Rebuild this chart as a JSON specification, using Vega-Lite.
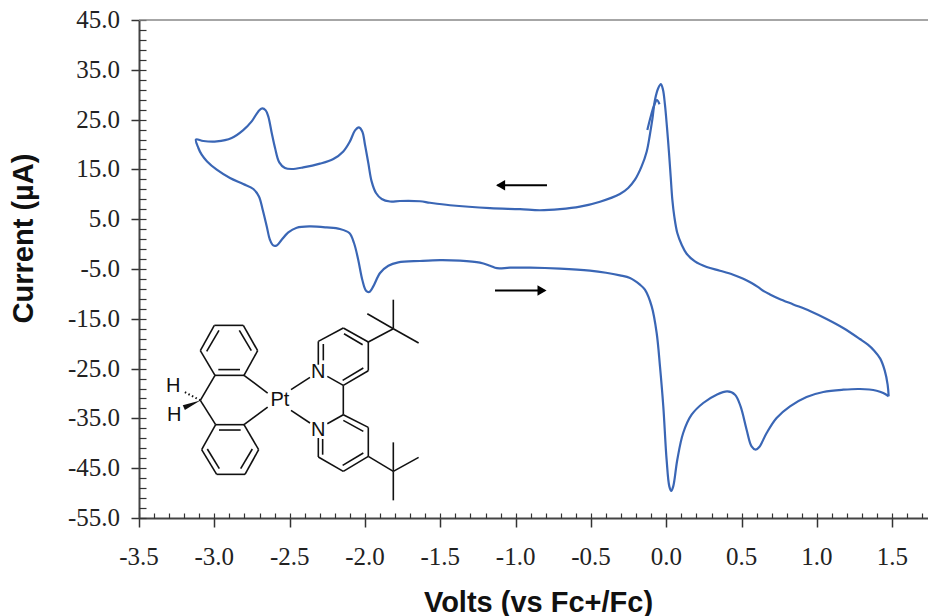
{"$schema":"https://vega.github.io/schema/vega-lite/v6.json","width":789,"height":498,"autosize":{"type":"none"},"padding":{"left":139,"top":20,"right":0,"bottom":98},"background":"white","config":{"view":{"stroke":null}},
"datasets":{
"curve":[
{"s":"h","i":0,"v":-0.045,"c":28.09},{"s":"h","i":1,"v":-0.062,"c":28.9},{"s":"h","i":2,"v":-0.082,"c":27.79},{"s":"h","i":3,"v":-0.102,"c":25.78},{"s":"h","i":4,"v":-0.126,"c":22.91},
{"s":"m","i":0,"v":1.476,"c":-30.58},{"s":"m","i":1,"v":1.469,"c":-28.2},{"s":"m","i":2,"v":1.45,"c":-25.4},{"s":"m","i":2.5,"v":1.42,"c":-23},{"s":"m","i":2.7,"v":1.38,"c":-21.4},{"s":"m","i":3,"v":1.338,"c":-20.2},{"s":"m","i":4,"v":1.285,"c":-19.06},{"s":"m","i":5,"v":1.174,"c":-16.85},{"s":"m","i":6,"v":1.064,"c":-15.04},{"s":"m","i":7,"v":0.953,"c":-13.43},{"s":"m","i":8,"v":0.843,"c":-12.11},{"s":"m","i":9,"v":0.748,"c":-10.96},{"s":"m","i":10,"v":0.688,"c":-10.1},{"s":"m","i":10.5,"v":0.65,"c":-9.5},{"s":"m","i":11,"v":0.61,"c":-8.65},{"s":"m","i":12,"v":0.566,"c":-7.81},{"s":"m","i":13,"v":0.511,"c":-6.95},{"s":"m","i":14,"v":0.444,"c":-6.14},{"s":"m","i":15,"v":0.356,"c":-5.34},{"s":"m","i":16,"v":0.268,"c":-4.6},{"s":"m","i":17,"v":0.19,"c":-3.47},{"s":"m","i":18,"v":0.135,"c":-1.93},{"s":"m","i":19,"v":0.102,"c":-0.12},{"s":"m","i":20,"v":0.073,"c":2.23},{"s":"m","i":21,"v":0.053,"c":5.56},{"s":"m","i":22,"v":0.04,"c":8.92},{"s":"m","i":23,"v":0.029,"c":13.59},{"s":"m","i":24,"v":0.018,"c":18.29},{"s":"m","i":25,"v":0.004,"c":23.63},{"s":"m","i":26,"v":-0.009,"c":27.99},{"s":"m","i":27,"v":-0.022,"c":31},{"s":"m","i":28,"v":-0.036,"c":32.15},{"s":"m","i":29,"v":-0.053,"c":31.35},{"s":"m","i":30,"v":-0.075,"c":29},{"s":"m","i":31,"v":-0.093,"c":24.98},{"s":"m","i":32,"v":-0.109,"c":21.97},{"s":"m","i":33,"v":-0.13,"c":18.61},{"s":"m","i":34,"v":-0.164,"c":15.6},{"s":"m","i":35,"v":-0.208,"c":12.93},{"s":"m","i":36,"v":-0.253,"c":11.27},{"s":"m","i":37,"v":-0.308,"c":10.06},{"s":"m","i":38,"v":-0.44,"c":8.51},{"s":"m","i":39,"v":-0.573,"c":7.51},{"s":"m","i":40,"v":-0.706,"c":7.01},{"s":"m","i":41,"v":-0.839,"c":6.8},{"s":"m","i":42,"v":-0.971,"c":7.01},{"s":"m","i":43,"v":-1.17,"c":7.21},{"s":"m","i":44,"v":-1.436,"c":7.8},{"s":"m","i":45,"v":-1.569,"c":8.3},{"s":"m","i":46,"v":-1.635,"c":8.6},{"s":"m","i":47,"v":-1.768,"c":8.65},{"s":"m","i":48,"v":-1.834,"c":8.55},{"s":"m","i":49,"v":-1.889,"c":9.06},{"s":"m","i":50,"v":-1.927,"c":10.26},{"s":"m","i":51,"v":-1.956,"c":12.59},{"s":"m","i":52,"v":-1.978,"c":16.29},{"s":"m","i":53,"v":-2.0,"c":19.96},{"s":"m","i":54,"v":-2.018,"c":22.63},{"s":"m","i":55,"v":-2.04,"c":23.43},{"s":"m","i":56,"v":-2.066,"c":22.83},{"s":"m","i":57,"v":-2.1,"c":20.62},{"s":"m","i":58,"v":-2.144,"c":18.61},{"s":"m","i":59,"v":-2.21,"c":17.09},{"s":"m","i":60,"v":-2.299,"c":16.15},{"s":"m","i":61,"v":-2.41,"c":15.4},{"s":"m","i":62,"v":-2.487,"c":15.08},{"s":"m","i":63,"v":-2.531,"c":15.28},{"s":"m","i":64,"v":-2.569,"c":16.41},{"s":"m","i":65,"v":-2.597,"c":19.3},{"s":"m","i":66,"v":-2.619,"c":22.31},{"s":"m","i":67,"v":-2.642,"c":25.64},{"s":"m","i":68,"v":-2.659,"c":26.85},{"s":"m","i":69,"v":-2.682,"c":27.25},{"s":"m","i":70,"v":-2.708,"c":26.65},{"s":"m","i":71,"v":-2.752,"c":24.64},{"s":"m","i":72,"v":-2.808,"c":22.9},{"s":"m","i":73,"v":-2.885,"c":21.31},{"s":"m","i":74,"v":-2.984,"c":20.62},{"s":"m","i":75,"v":-3.073,"c":20.7},{"s":"m","i":76,"v":-3.122,"c":21.02},{"s":"m","i":77,"v":-3.106,"c":19.3},{"s":"m","i":77.5,"v":-3.084,"c":17.95},{"s":"m","i":78,"v":-3.048,"c":16.6},{"s":"m","i":79,"v":-2.984,"c":14.94},{"s":"m","i":80,"v":-2.896,"c":13.27},{"s":"m","i":81,"v":-2.808,"c":12.07},{"s":"m","i":82,"v":-2.741,"c":11.06},{"s":"m","i":83,"v":-2.704,"c":9.58},{"s":"m","i":84,"v":-2.679,"c":6.91},{"s":"m","i":85,"v":-2.652,"c":3.55},{"s":"m","i":86,"v":-2.631,"c":0.88},{"s":"m","i":87,"v":-2.609,"c":-0.26},{"s":"m","i":88,"v":-2.586,"c":-0.26},{"s":"m","i":89,"v":-2.553,"c":0.88},{"s":"m","i":90,"v":-2.509,"c":2.35},{"s":"m","i":91,"v":-2.453,"c":3.29},{"s":"m","i":92,"v":-2.365,"c":3.55},{"s":"m","i":93,"v":-2.254,"c":3.35},{"s":"m","i":94,"v":-2.166,"c":3.03},{"s":"m","i":95,"v":-2.104,"c":2.23},{"s":"m","i":96,"v":-2.073,"c":0.22},{"s":"m","i":97,"v":-2.045,"c":-3.13},{"s":"m","i":98,"v":-2.018,"c":-7.15},{"s":"m","i":99,"v":-1.993,"c":-9.36},{"s":"m","i":100,"v":-1.972,"c":-9.62},{"s":"m","i":101,"v":-1.945,"c":-8.49},{"s":"m","i":102,"v":-1.9,"c":-5.8},{"s":"m","i":103,"v":-1.845,"c":-4.34},{"s":"m","i":104,"v":-1.779,"c":-3.67},{"s":"m","i":105,"v":-1.635,"c":-3.39},{"s":"m","i":106,"v":-1.502,"c":-3.23},{"s":"m","i":107,"v":-1.37,"c":-3.33},{"s":"m","i":108,"v":-1.237,"c":-3.73},{"s":"m","i":109,"v":-1.17,"c":-4.34},{"s":"m","i":110,"v":-1.124,"c":-4.84},{"s":"m","i":111,"v":-1.038,"c":-4.74},{"s":"m","i":112,"v":-0.905,"c":-4.74},{"s":"m","i":113,"v":-0.706,"c":-4.94},{"s":"m","i":113.5,"v":-0.507,"c":-5.34},{"s":"m","i":114,"v":-0.4,"c":-5.75},{"s":"m","i":115,"v":-0.308,"c":-6.28},{"s":"m","i":116,"v":-0.241,"c":-6.81},{"s":"m","i":117,"v":-0.175,"c":-8.15},{"s":"m","i":118,"v":-0.142,"c":-9.16},{"s":"m","i":119,"v":-0.097,"c":-12.51},{"s":"m","i":120,"v":-0.064,"c":-17.85},{"s":"m","i":121,"v":-0.042,"c":-24.56},{"s":"m","i":122,"v":-0.02,"c":-32.59},{"s":"m","i":123,"v":0.002,"c":-43.29},{"s":"m","i":124,"v":0.02,"c":-48.65},{"s":"m","i":125,"v":0.033,"c":-49.58},{"s":"m","i":126,"v":0.046,"c":-48.65},{"s":"m","i":127,"v":0.073,"c":-43.29},{"s":"m","i":128,"v":0.112,"c":-37.93},{"s":"m","i":129,"v":0.168,"c":-34.26},{"s":"m","i":130,"v":0.245,"c":-31.91},{"s":"m","i":131,"v":0.334,"c":-30.24},{"s":"m","i":132,"v":0.405,"c":-29.58},{"s":"m","i":133,"v":0.456,"c":-30.24},{"s":"m","i":134,"v":0.493,"c":-32.59},{"s":"m","i":135,"v":0.533,"c":-37.27},{"s":"m","i":136,"v":0.566,"c":-40.62},{"s":"m","i":137,"v":0.593,"c":-41.28},{"s":"m","i":138,"v":0.617,"c":-40.74},{"s":"m","i":139,"v":0.666,"c":-37.93},{"s":"m","i":140,"v":0.732,"c":-34.92},{"s":"m","i":141,"v":0.821,"c":-32.59},{"s":"m","i":142,"v":0.931,"c":-30.7},{"s":"m","i":143,"v":1.042,"c":-29.7},{"s":"m","i":144,"v":1.174,"c":-29.24},{"s":"m","i":145,"v":1.285,"c":-29.1},{"s":"m","i":146,"v":1.396,"c":-29.44},{"s":"m","i":146.5,"v":1.44,"c":-29.9},{"s":"m","i":147,"v":1.476,"c":-30.58}
],
"bonds":[
{"a":-3.0,"b":-16.318,"a2":-2.8075,"b2":-16.318},{"a":-2.8075,"b":-16.318,"a2":-2.7124,"b2":-21.404},{"a":-2.7124,"b":-21.404,"a2":-2.8031,"b2":-26.357},{"a":-2.8031,"b":-26.357,"a2":-2.9956,"b2":-26.357},{"a":-2.9956,"b":-26.357,"a2":-3.0929,"b2":-21.404},{"a":-3.0929,"b":-21.404,"a2":-3.0,"b2":-16.318},
{"a":-3.0509,"b":-21.538,"a2":-2.9691,"b2":-17.321},{"a":-2.8341,"b":-17.321,"a2":-2.7544,"b2":-21.404},{"a":-2.9735,"b":-25.2,"a2":-2.8297,"b2":-25.2},
{"a":-2.9956,"b":-26.357,"a2":-3.0929,"b2":-31.376},{"a":-2.8031,"b":-26.357,"a2":-2.6461,"b2":-29.904},
{"a":-2.9912,"b":-36.262,"a2":-2.8031,"b2":-36.262},{"a":-2.8031,"b":-36.262,"a2":-2.7058,"b2":-41.283},{"a":-2.7058,"b":-41.283,"a2":-2.7965,"b2":-46.235},{"a":-2.7965,"b":-46.235,"a2":-2.9845,"b2":-46.235},{"a":-2.9845,"b":-46.235,"a2":-3.0841,"b2":-41.283},{"a":-3.0841,"b":-41.283,"a2":-2.9912,"b2":-36.262},
{"a":-2.9691,"b":-37.334,"a2":-2.8252,"b2":-37.334},{"a":-2.7478,"b":-41.149,"a2":-2.8252,"b2":-45.098},{"a":-3.0465,"b":-41.149,"a2":-2.9668,"b2":-45.098},
{"a":-3.0929,"b":-31.376,"a2":-2.9912,"b2":-36.262},{"a":-2.8031,"b":-36.262,"a2":-2.6461,"b2":-32.715},
{"a":-2.4912,"b":-29.235,"a2":-2.3651,"b2":-26.758},{"a":-2.4912,"b":-33.385,"a2":-2.3651,"b2":-35.928},
{"a":-2.3098,"b":-24.215,"a2":-2.3098,"b2":-19.53},{"a":-2.3098,"b":-19.53,"a2":-2.1439,"b2":-16.853},{"a":-2.1439,"b":-16.853,"a2":-1.978,"b2":-19.664},{"a":-1.978,"b":-19.664,"a2":-1.978,"b2":-25.42},{"a":-1.978,"b":-25.42,"a2":-2.1439,"b2":-28.365},{"a":-2.1439,"b":-28.365,"a2":-2.2501,"b2":-26.558},
{"a":-2.2766,"b":-20.065,"a2":-2.2766,"b2":-23.345},{"a":-2.1394,"b":-17.991,"a2":-2.0155,"b2":-20.199},{"a":-2.0111,"b":-24.884,"a2":-2.1483,"b2":-27.361},
{"a":-2.1439,"b":-28.365,"a2":-2.1439,"b2":-34.255},
{"a":-2.1439,"b":-34.255,"a2":-2.2501,"b2":-36.061},{"a":-2.1439,"b":-34.255,"a2":-1.978,"b2":-36.798},{"a":-1.978,"b":-36.798,"a2":-1.978,"b2":-42.621},{"a":-1.978,"b":-42.621,"a2":-2.1439,"b2":-45.632},{"a":-2.1439,"b":-45.632,"a2":-2.3098,"b2":-42.754},{"a":-2.3098,"b":-42.754,"a2":-2.3098,"b2":-38.94},
{"a":-2.281,"b":-39.14,"a2":-2.281,"b2":-42.286},{"a":-2.1439,"b":-35.393,"a2":-2.0111,"b2":-37.601},{"a":-2.0111,"b":-41.952,"a2":-2.1483,"b2":-44.429},
{"a":-1.978,"b":-19.664,"a2":-1.812,"b2":-16.987},{"a":-1.812,"b":-16.987,"a2":-1.812,"b2":-11.164},{"a":-1.812,"b":-16.987,"a2":-1.9846,"b2":-13.975},{"a":-1.812,"b":-16.987,"a2":-1.6439,"b2":-19.865},
{"a":-1.978,"b":-42.621,"a2":-1.812,"b2":-45.632},{"a":-1.812,"b":-45.632,"a2":-1.812,"b2":-39.81},{"a":-1.812,"b":-45.632,"a2":-1.812,"b2":-51.456},{"a":-1.812,"b":-45.632,"a2":-1.6439,"b2":-42.822}
],
"atoms":[{"t":"H","a":-3.2721,"b":-28.566},{"t":"H","a":-3.2655,"b":-34.255},{"t":"Pt","a":-2.5642,"b":-31.376},{"t":"N","a":-2.3098,"b":-25.69},{"t":"N","a":-2.3098,"b":-37.27}],
"hash":[{"a":-3.0929,"b":-31.376,"a2":-3.2058,"b2":-29.57}],
"wedge":[{"a":-3.166,"b":-32.37}],
"arrowLines":[{"a":-0.792,"b":11.83,"a2":-1.12,"b2":11.83},{"a":-1.137,"b":-9.3,"a2":-0.81,"b2":-9.3}],
"headL":[{"a":-1.1,"b":11.83}],
"headR":[{"a":-0.825,"b":-9.3}],
"top":[{"b":45}],
"xlabels":[{"t":"-3.5","a":-3.5,"b":-62.8},{"t":"-3.0","a":-3,"b":-62.8},{"t":"-2.5","a":-2.5,"b":-62.8},{"t":"-2.0","a":-2,"b":-62.8},{"t":"-1.5","a":-1.5,"b":-62.8},{"t":"-1.0","a":-1,"b":-62.8},{"t":"-0.5","a":-0.5,"b":-62.8},{"t":"0.0","a":0,"b":-62.8},{"t":"0.5","a":0.5,"b":-62.8},{"t":"1.0","a":1,"b":-62.8},{"t":"1.5","a":1.5,"b":-62.8}],
"ylabels":[{"t":"45.0","a":-3.626,"b":45},{"t":"35.0","a":-3.626,"b":35},{"t":"25.0","a":-3.626,"b":25},{"t":"15.0","a":-3.626,"b":15},{"t":"5.0","a":-3.626,"b":5},{"t":"-5.0","a":-3.626,"b":-5},{"t":"-15.0","a":-3.626,"b":-15},{"t":"-25.0","a":-3.626,"b":-25},{"t":"-35.0","a":-3.626,"b":-35},{"t":"-45.0","a":-3.626,"b":-45},{"t":"-55.0","a":-3.626,"b":-55}]
},
"layer":[
{"data":{"name":"curve"},"mark":{"type":"line","interpolate":"catmull-rom","stroke":"#3A66B5","strokeWidth":2.2},
"encoding":{
"x":{"field":"v","type":"quantitative","scale":{"domain":[-3.5,1.737],"nice":false,"zero":false},
"axis":{"orient":"bottom","values":[-3.5,-3,-2.5,-2,-1.5,-1,-0.5,0,0.5,1,1.5],"labels":false,"title":"Volts (vs Fc+/Fc)","titleFont":"Liberation Sans","titleFontWeight":"bold","titleFontSize":29,"titleColor":"#111","titleX":399,"titleY":84,"titleBaseline":"middle","tickSize":9,"tickColor":"#333","tickWidth":1.5,"domainColor":"#444","domainWidth":2,"grid":false}},
"y":{"field":"c","type":"quantitative","scale":{"domain":[-55,45],"nice":false,"zero":false},
"axis":{"orient":"left","values":[45,35,25,15,5,-5,-15,-25,-35,-45,-55],"labels":false,"title":"Current (µA)","titleFont":"Liberation Sans","titleFontWeight":"bold","titleFontSize":29,"titleColor":"#111","titleX":-116,"titleY":218,"titleBaseline":"middle","tickSize":8,"tickColor":"#333","tickWidth":1.5,"domainColor":"#444","domainWidth":2,"grid":false}},
"detail":{"field":"s"},"order":{"field":"i"}}},
{"data":{"name":"bonds"},"mark":{"type":"rule","stroke":"#111","strokeWidth":1.6},
"encoding":{
"x":{"field":"a","type":"quantitative","axis":{"orient":"bottom","values":[-3.5,-3.4,-3.3,-3.2,-3.1,-3,-2.9,-2.8,-2.7,-2.6,-2.5,-2.4,-2.3,-2.2,-2.1,-2,-1.9,-1.8,-1.7,-1.6,-1.5,-1.4,-1.3,-1.2,-1.1,-1,-0.9,-0.8,-0.7,-0.6,-0.5,-0.4,-0.3,-0.2,-0.1,0,0.1,0.2,0.3,0.4,0.5,0.6,0.7,0.8,0.9,1,1.1,1.2,1.3,1.4,1.5,1.6,1.7],"labels":false,"title":null,"domain":false,"grid":false,"tickSize":-5,"tickColor":"#333","tickWidth":1.2}},
"y":{"field":"b","type":"quantitative","axis":{"orient":"left","values":[45,43,41,39,37,35,33,31,29,27,25,23,21,19,17,15,13,11,9,7,5,3,1,-1,-3,-5,-7,-9,-11,-13,-15,-17,-19,-21,-23,-25,-27,-29,-31,-33,-35,-37,-39,-41,-43,-45,-47,-49,-51,-53,-55],"labels":false,"title":null,"domain":false,"grid":false,"tickSize":-7,"tickColor":"#333","tickWidth":1.2}},
"x2":{"field":"a2"},"y2":{"field":"b2"}}},
{"data":{"name":"hash"},"mark":{"type":"rule","stroke":"#111","strokeWidth":2,"strokeDash":[1.5,2.5]},
"encoding":{"x":{"field":"a","type":"quantitative","axis":null},"y":{"field":"b","type":"quantitative","axis":null},"x2":{"field":"a2"},"y2":{"field":"b2"}}},
{"data":{"name":"wedge"},"mark":{"type":"point","shape":"wedge","filled":true,"fill":"#111","stroke":null,"opacity":1,"size":433,"angle":66},
"encoding":{"x":{"field":"a","type":"quantitative","axis":null},"y":{"field":"b","type":"quantitative","axis":null}}},
{"data":{"name":"atoms"},"mark":{"type":"text","font":"Liberation Sans","fontSize":20,"fill":"#111"},
"encoding":{"x":{"field":"a","type":"quantitative","axis":null},"y":{"field":"b","type":"quantitative","axis":null},"text":{"field":"t"}}},
{"data":{"name":"xlabels"},"mark":{"type":"text","font":"Liberation Serif","fontSize":25,"fill":"#222","align":"center","baseline":"middle"},
"encoding":{"x":{"field":"a","type":"quantitative","axis":null},"y":{"field":"b","type":"quantitative","axis":null},"text":{"field":"t"}}},
{"data":{"name":"ylabels"},"mark":{"type":"text","font":"Liberation Serif","fontSize":25,"fill":"#222","align":"right","baseline":"middle"},
"encoding":{"x":{"field":"a","type":"quantitative","axis":null},"y":{"field":"b","type":"quantitative","axis":null},"text":{"field":"t"}}},
{"data":{"name":"arrowLines"},"mark":{"type":"rule","stroke":"#000","strokeWidth":2},
"encoding":{"x":{"field":"a","type":"quantitative","axis":null},"y":{"field":"b","type":"quantitative","axis":null},"x2":{"field":"a2"},"y2":{"field":"b2"}}},
{"data":{"name":"headL"},"mark":{"type":"point","shape":"triangle-left","filled":true,"fill":"#000","stroke":null,"opacity":1,"size":110},
"encoding":{"x":{"field":"a","type":"quantitative","axis":null},"y":{"field":"b","type":"quantitative","axis":null}}},
{"data":{"name":"headR"},"mark":{"type":"point","shape":"triangle-right","filled":true,"fill":"#000","stroke":null,"opacity":1,"size":110},
"encoding":{"x":{"field":"a","type":"quantitative","axis":null},"y":{"field":"b","type":"quantitative","axis":null}}},
{"data":{"name":"top"},"mark":{"type":"rule","stroke":"#888","strokeWidth":1.5},"encoding":{"y":{"field":"b","type":"quantitative","axis":null}}}
],
"resolve":{"axis":{"x":"independent","y":"independent"}}
}
